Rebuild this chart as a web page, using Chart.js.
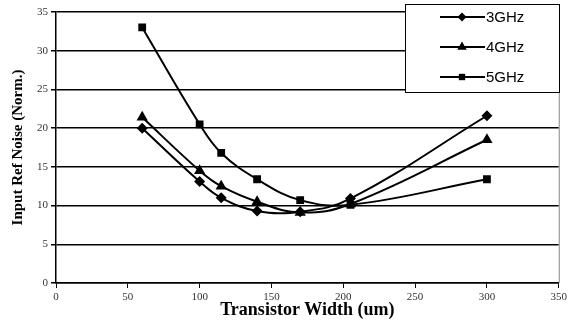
<!DOCTYPE html>
<html><head><meta charset="utf-8">
<script src="https://cdn.jsdelivr.net/npm/chart.js@4"></script>
<style>html,body{margin:0;padding:0;background:#fff}#w{width:570px;height:324px}</style>
</head><body><div id="w"><canvas id="c" width="570" height="324"></canvas></div>
<script>
const widths = [60, 100, 115, 140, 170, 205, 300];
const noise3GHz = [20.0, 13.1, 11.0, 9.3, 9.2, 10.9, 21.6];
const noise4GHz = [21.4, 14.5, 12.5, 10.5, 9.1, 10.2, 18.5];
const noise5GHz = [33.0, 20.5, 16.8, 13.4, 10.7, 10.1, 13.4];
const seriesNames = ['3GHz', '4GHz', '5GHz'];
const markers = ['rectRot', 'triangle', 'rect'];
const markerSizes = [5.5, 6.5, 5.5];

function pts(ys){ return widths.map((x,i)=>({x:x,y:ys[i]})); }
const datasets = [noise3GHz, noise4GHz, noise5GHz].map((ys,i)=>({
  label: seriesNames[i], data: pts(ys), borderColor:'#000', backgroundColor:'#000',
  borderWidth:2, pointStyle:markers[i], pointRadius:markerSizes[i], pointBorderWidth:0,
  tension:0.4, fill:false
}));

const legendPlugin = {
  id:'boxLegend',
  afterDraw(chart){
    const ctx = chart.ctx;
    ctx.save();
    // right border of plot area
    const a=chart.chartArea;
    ctx.strokeStyle='#888'; ctx.lineWidth=1;
    ctx.beginPath(); ctx.moveTo(a.right+0.5,a.top); ctx.lineTo(a.right+0.5,a.bottom); ctx.stroke();
    ctx.fillStyle='#fff'; ctx.fillRect(405,4,154,88);
    ctx.strokeStyle='#000'; ctx.lineWidth=1; ctx.strokeRect(405.5,4.5,154,88);
    const ys=[17,47,77];
    chart.data.datasets.forEach((ds,i)=>{
      const y=ys[i];
      ctx.strokeStyle='#000'; ctx.fillStyle='#000'; ctx.lineWidth=2;
      ctx.beginPath(); ctx.moveTo(440,y); ctx.lineTo(485,y); ctx.stroke();
      Chart.helpers.drawPoint(ctx,{pointStyle:ds.pointStyle,radius:ds.pointRadius-1,borderWidth:0},462,y);
      ctx.fillStyle='#000'; ctx.font='15px "Liberation Sans", Arial, sans-serif';
      ctx.textBaseline='middle'; ctx.textAlign='left';
      ctx.fillText(ds.label,486,y+1);
    });
    ctx.restore();
  }
};

new Chart(document.getElementById('c'),{
  type:'line',
  data:{datasets},
  options:{
    responsive:false, animation:false, devicePixelRatio:1,
    layout:{padding:{left:0,right:4,top:12,bottom:0}},
    plugins:{legend:{display:false},tooltip:{enabled:false}},
    scales:{
      x:{type:'linear',min:0,max:350,
        ticks:{stepSize:50,color:'#333',font:{family:'"Liberation Serif", serif',size:11},padding:3},
        grid:{drawOnChartArea:false,drawTicks:true,tickLength:5,color:'#000',lineWidth:1},
        border:{color:'#000',width:1.5},
        title:{display:true,text:'Transistor Width (um)',color:'#000',
          font:{family:'"Liberation Serif", serif',size:18,weight:'bold'},padding:{top:0,bottom:3}},
        afterFit(s){s.height=41;}
      },
      y:{min:0,max:35,
        ticks:{stepSize:5,color:'#333',font:{family:'"Liberation Serif", serif',size:11},padding:3},
        grid:{color:'#000',lineWidth:1.5,tickLength:5},
        border:{color:'#000',width:1.5},
        title:{display:true,text:'Input Ref Noise (Norm.)',color:'#000',
          font:{family:'"Liberation Serif", serif',size:15,weight:'bold'},padding:{top:9,bottom:0}},
        afterFit(s){s.width=56;}
      }
    }
  },
  plugins:[legendPlugin]
});
</script></body></html>
